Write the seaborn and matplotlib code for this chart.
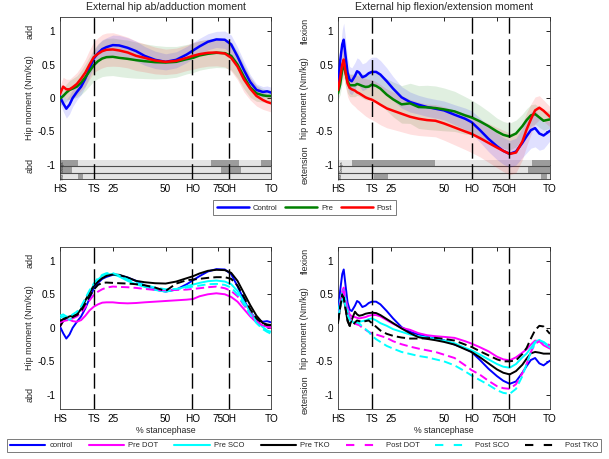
import numpy as np
import pandas as pd
import matplotlib
matplotlib.use('Agg')
import matplotlib.pyplot as plt
import matplotlib.transforms as mtransforms
from matplotlib.lines import Line2D
import seaborn as sns

sns.set_style('white')
plt.rcParams['font.family'] = ['Liberation Sans', 'DejaVu Sans']
plt.rcParams['lines.scale_dashes'] = False

# ---------------- data ----------------
XTICK_LABELS = ['HS', 'TS', '25', '50', 'HO', '75', 'OH', 'TO']
YTICKS = [-1, -0.5, 0, 0.5, 1]
YTICK_LABELS = ['-1', '-0.5', '0', '0.5', '1']
EVENTS_AB = [16.1, 62.6, 80.1]   # TS, HO, OH
EVENTS_FE = [16.2, 63.0, 80.7]

TITLES = ['External hip ab/adduction moment', 'External hip flexion/extension moment']

# % stance grid, ab/adduction panels
XA = [0, 1.5, 3, 4.5, 6, 8, 10, 12, 14, 16, 18, 20, 22, 25, 28, 32, 36, 40, 45, 50,
      55, 60, 63, 66, 70, 74, 78, 81, 84, 87, 90, 93, 96, 98, 100]
# % stance grid, flexion/extension panels
XF = [0, 1, 2, 2.7, 3.5, 4.5, 5.5, 6.5, 8, 9, 10, 11.5, 13, 14.5, 16, 18, 20, 23, 26, 30,
      34, 38, 42, 46, 50, 55, 60, 63, 67, 71, 75, 78, 81, 84, 87, 89, 91, 93, 95, 97, 100]

# top-left: ab/adduction means
ab_control = [0.02, -0.08, -0.16, -0.1, 0.0, 0.09, 0.17, 0.29, 0.44, 0.59, 0.67, 0.73, 0.76, 0.79, 0.785, 0.75, 0.7, 0.63, 0.57, 0.54,
              0.57, 0.65, 0.71, 0.77, 0.84, 0.875, 0.87, 0.8, 0.62, 0.42, 0.24, 0.12, 0.09, 0.1, 0.08]
ab_pre = [-0.01, 0.03, 0.08, 0.12, 0.14, 0.17, 0.23, 0.31, 0.4, 0.49, 0.55, 0.59, 0.61, 0.615, 0.6, 0.585, 0.565, 0.55, 0.535, 0.53,
          0.54, 0.58, 0.6, 0.635, 0.66, 0.675, 0.67, 0.63, 0.5, 0.32, 0.16, 0.07, 0.04, 0.03, 0.03]
ab_post = [0.06, 0.17, 0.13, 0.13, 0.16, 0.21, 0.29, 0.38, 0.5, 0.61, 0.66, 0.7, 0.72, 0.725, 0.71, 0.68, 0.63, 0.6, 0.56, 0.54,
           0.555, 0.6, 0.63, 0.655, 0.675, 0.68, 0.665, 0.6, 0.47, 0.28, 0.14, 0.03, -0.03, -0.06, -0.08]
ab_control_sd = [0.1, 0.12, 0.14, 0.14, 0.13, 0.12, 0.12, 0.12, 0.12, 0.12, 0.13, 0.14, 0.14, 0.15, 0.15, 0.15, 0.15, 0.14, 0.13, 0.12,
                 0.12, 0.12, 0.12, 0.12, 0.12, 0.12, 0.13, 0.14, 0.14, 0.13, 0.11, 0.09, 0.08, 0.08, 0.08]
ab_pre_sd = [0.1, 0.12, 0.13, 0.14, 0.15, 0.16, 0.18, 0.2, 0.22, 0.24, 0.26, 0.27, 0.28, 0.28, 0.28, 0.28, 0.27, 0.26, 0.25, 0.24,
             0.23, 0.22, 0.22, 0.22, 0.22, 0.22, 0.22, 0.21, 0.2, 0.18, 0.15, 0.12, 0.1, 0.09, 0.09]
ab_post_sd = [0.12, 0.14, 0.15, 0.15, 0.16, 0.17, 0.18, 0.2, 0.22, 0.23, 0.24, 0.25, 0.25, 0.25, 0.24, 0.23, 0.22, 0.21, 0.2, 0.19,
              0.19, 0.19, 0.2, 0.2, 0.2, 0.2, 0.2, 0.2, 0.2, 0.19, 0.17, 0.15, 0.14, 0.13, 0.13]

# top-right: flexion/extension means
fe_control = [0.15, 0.55, 0.8, 0.87, 0.65, 0.38, 0.27, 0.25, 0.33, 0.4, 0.38, 0.31, 0.33, 0.37, 0.39, 0.39, 0.35, 0.25, 0.14, 0.01,
              -0.06, -0.1, -0.135, -0.16, -0.185, -0.25, -0.31, -0.36, -0.48, -0.61, -0.72, -0.79, -0.835, -0.8, -0.67, -0.57, -0.48, -0.45, -0.53, -0.56, -0.49]
fe_pre = [0.07, 0.2, 0.42, 0.52, 0.38, 0.25, 0.19, 0.19, 0.19, 0.21, 0.2, 0.18, 0.165, 0.17, 0.2, 0.18, 0.14, 0.05, -0.02, -0.095,
          -0.08, -0.135, -0.14, -0.15, -0.17, -0.2, -0.26, -0.29, -0.35, -0.42, -0.5, -0.55, -0.575, -0.53, -0.42, -0.33, -0.26, -0.24, -0.29, -0.34, -0.32]
fe_post = [0.12, 0.3, 0.5, 0.575, 0.4, 0.22, 0.15, 0.13, 0.11, 0.085, 0.07, 0.04, 0.01, -0.01, -0.025, -0.06, -0.1, -0.155, -0.19, -0.235,
           -0.28, -0.31, -0.33, -0.34, -0.38, -0.44, -0.5, -0.535, -0.6, -0.67, -0.74, -0.79, -0.835, -0.815, -0.65, -0.47, -0.32, -0.185, -0.145, -0.19, -0.28]
fe_control_sd = [0.1, 0.15, 0.22, 0.25, 0.25, 0.22, 0.2, 0.2, 0.2, 0.2, 0.2, 0.2, 0.2, 0.21, 0.22, 0.22, 0.21, 0.2, 0.18, 0.16,
                 0.15, 0.14, 0.14, 0.14, 0.14, 0.15, 0.16, 0.17, 0.18, 0.19, 0.2, 0.2, 0.2, 0.2, 0.22, 0.25, 0.27, 0.28, 0.25, 0.2, 0.15]
fe_pre_sd = [0.1, 0.15, 0.2, 0.22, 0.2, 0.18, 0.17, 0.17, 0.17, 0.17, 0.17, 0.18, 0.19, 0.2, 0.2, 0.21, 0.22, 0.24, 0.26, 0.28,
             0.3, 0.32, 0.33, 0.33, 0.32, 0.3, 0.28, 0.26, 0.24, 0.22, 0.2, 0.2, 0.2, 0.2, 0.18, 0.17, 0.16, 0.15, 0.15, 0.14, 0.13]
fe_post_sd = [0.1, 0.15, 0.2, 0.22, 0.22, 0.2, 0.2, 0.22, 0.24, 0.25, 0.26, 0.27, 0.28, 0.29, 0.3, 0.3, 0.3, 0.29, 0.28, 0.27,
              0.26, 0.25, 0.24, 0.24, 0.25, 0.26, 0.27, 0.28, 0.28, 0.29, 0.3, 0.31, 0.31, 0.3, 0.27, 0.25, 0.23, 0.2, 0.18, 0.16, 0.15]

# bottom-left: ab/adduction subgroups
ab_pre_dot = [0.02, 0.1, 0.14, 0.12, 0.1, 0.09, 0.115, 0.18, 0.26, 0.315, 0.35, 0.375, 0.38, 0.38, 0.37, 0.365, 0.37, 0.38, 0.39, 0.4,
              0.41, 0.42, 0.43, 0.47, 0.5, 0.515, 0.5, 0.46, 0.39, 0.28, 0.17, 0.08, 0.03, 0.02, 0.015]
ab_pre_sco = [0.15, 0.17, 0.13, 0.12, 0.15, 0.2, 0.28, 0.4, 0.53, 0.64, 0.72, 0.775, 0.8, 0.8, 0.765, 0.7, 0.65, 0.61, 0.565, 0.54,
              0.57, 0.62, 0.645, 0.67, 0.695, 0.705, 0.69, 0.65, 0.55, 0.39, 0.24, 0.1, 0.01, -0.04, -0.06]
ab_pre_tko = [0.02, 0.1, 0.15, 0.17, 0.18, 0.2, 0.28, 0.41, 0.52, 0.625, 0.69, 0.74, 0.775, 0.795, 0.79, 0.75, 0.7, 0.68, 0.665, 0.66,
              0.69, 0.74, 0.77, 0.81, 0.85, 0.865, 0.86, 0.82, 0.7, 0.52, 0.34, 0.18, 0.07, 0.05, 0.04]
ab_post_dot = [0.08, 0.1, 0.11, 0.12, 0.14, 0.17, 0.22, 0.31, 0.41, 0.49, 0.54, 0.575, 0.6, 0.615, 0.61, 0.605, 0.595, 0.58, 0.565, 0.56,
               0.565, 0.57, 0.58, 0.59, 0.605, 0.615, 0.59, 0.55, 0.47, 0.34, 0.22, 0.1, 0.03, 0.01, 0.0]
ab_post_sco = [0.18, 0.2, 0.17, 0.17, 0.2, 0.24, 0.32, 0.44, 0.56, 0.66, 0.74, 0.79, 0.815, 0.815, 0.78, 0.72, 0.67, 0.64, 0.6, 0.575,
               0.58, 0.6, 0.615, 0.63, 0.65, 0.655, 0.64, 0.6, 0.5, 0.35, 0.2, 0.07, -0.02, -0.06, -0.09]
ab_post_tko = [0.1, 0.13, 0.15, 0.15, 0.16, 0.19, 0.25, 0.36, 0.47, 0.57, 0.64, 0.67, 0.675, 0.67, 0.665, 0.66, 0.65, 0.635, 0.6, 0.55,
               0.66, 0.71, 0.72, 0.73, 0.745, 0.755, 0.755, 0.73, 0.63, 0.46, 0.28, 0.14, 0.06, 0.04, 0.04]

# bottom-right: flexion/extension subgroups
fe_pre_dot = [0.15, 0.35, 0.55, 0.6, 0.45, 0.3, 0.2, 0.17, 0.16, 0.15, 0.14, 0.15, 0.16, 0.18, 0.19, 0.19, 0.17, 0.115, 0.06, 0.0,
              -0.03, -0.08, -0.11, -0.125, -0.135, -0.15, -0.2, -0.235, -0.29, -0.35, -0.43, -0.47, -0.485, -0.44, -0.37, -0.32, -0.25, -0.19, -0.2, -0.26, -0.31]
fe_pre_sco = [0.2, 0.4, 0.52, 0.56, 0.42, 0.25, 0.15, 0.1, 0.065, 0.08, 0.09, 0.1, 0.11, 0.13, 0.14, 0.11, 0.07, 0.03, -0.02, -0.06,
              -0.1, -0.125, -0.145, -0.165, -0.19, -0.23, -0.3, -0.335, -0.4, -0.47, -0.54, -0.58, -0.595, -0.54, -0.44, -0.385, -0.3, -0.21, -0.18, -0.22, -0.29]
fe_pre_tko = [0.07, 0.3, 0.5, 0.45, 0.3, 0.1, 0.03, 0.12, 0.24, 0.2, 0.18, 0.19, 0.21, 0.22, 0.225, 0.22, 0.19, 0.13, 0.07, -0.01,
              -0.08, -0.14, -0.165, -0.185, -0.21, -0.25, -0.32, -0.36, -0.44, -0.53, -0.62, -0.67, -0.695, -0.645, -0.55, -0.46, -0.38, -0.36, -0.37, -0.385, -0.385]
fe_post_dot = [0.15, 0.35, 0.5, 0.55, 0.4, 0.25, 0.15, 0.1, 0.06, 0.05, 0.04, 0.0, -0.03, -0.06, -0.085, -0.1, -0.12, -0.15, -0.2, -0.245,
               -0.28, -0.31, -0.335, -0.36, -0.4, -0.45, -0.56, -0.63, -0.7, -0.79, -0.87, -0.9, -0.91, -0.84, -0.68, -0.54, -0.36, -0.24, -0.2, -0.22, -0.26]
fe_post_sco = [0.15, 0.3, 0.42, 0.45, 0.33, 0.2, 0.12, 0.09, 0.09, 0.08, 0.065, 0.02, -0.02, -0.06, -0.12, -0.17, -0.21, -0.27, -0.31, -0.36,
               -0.39, -0.42, -0.44, -0.47, -0.5, -0.56, -0.65, -0.71, -0.78, -0.85, -0.93, -0.97, -0.985, -0.91, -0.72, -0.54, -0.36, -0.22, -0.19, -0.21, -0.28]
fe_post_tko = [0.1, 0.3, 0.48, 0.45, 0.3, 0.12, 0.03, 0.02, 0.08, 0.11, 0.1, 0.09, 0.1, 0.11, 0.07, 0.015, -0.04, -0.09, -0.12, -0.145,
               -0.16, -0.16, -0.155, -0.15, -0.165, -0.19, -0.25, -0.285, -0.35, -0.41, -0.47, -0.5, -0.5, -0.485, -0.39, -0.3, -0.16, -0.035, 0.03, 0.02, -0.09]

# significance bars (start, end) in % stance, three rows per panel
SIG_AB = [[(0, 8.6), (71.5, 84.8), (94.9, 100)], [(0, 5.7), (76.2, 85.5)], [(8.3, 10.7)]]
SIG_FE = [[(6.5, 45.6), (91.4, 100)], [(89.8, 100)], [(17.2, 23.7), (95.8, 98.4)]]
SIG_ROWS = [(-1.02, -0.92), (-1.115, -1.02), (-1.21, -1.115)]

TOP_LABELS = ['Control', 'Pre', 'Post']
BOTTOM_LABELS = ['control', 'Pre DOT', 'Pre SCO', 'Pre TKO', 'Post DOT', 'Post SCO', 'Post TKO']

BLUE, GREEN, RED = (0, 0, 1), (0, 0.5, 0), (1, 0, 0)
MAG, CYAN, BLACK = (1, 0, 1), (0, 1, 1), (0, 0, 0)
DASH = (6, 3)

# ---------------- figure ----------------
fig = plt.figure(figsize=(6.09, 4.59), dpi=100)
ax_tl = fig.add_axes([0.0985, 0.610, 0.347, 0.353])
ax_tr = fig.add_axes([0.555, 0.610, 0.348, 0.353])
ax_bl = fig.add_axes([0.0985, 0.109, 0.347, 0.3536])
ax_br = fig.add_axes([0.555, 0.109, 0.348, 0.3536])


def draw(ax, x, y, color, lw, dashes=None, z=3):
    sns.lineplot(x=x, y=y, ax=ax, color=color, linewidth=lw, estimator=None,
                 sort=False, errorbar=None, legend=False)
    ln = ax.lines[-1]
    if dashes:
        ln.set_dashes(dashes)
    ln.set_zorder(z)


def band(ax, x, m, s, color):
    m = np.asarray(m); s = np.asarray(s)
    ax.fill_between(x, m - s, m + s, color=color, alpha=0.12, lw=0, zorder=1)


def setup(ax, events, side_top, side_mid, side_bot, xoff):
    ax.set_xlim(0, 100)
    ax.set_ylim(-1.21, 1.21)
    ax.set_xticks([0, events[0], 25, 50, events[1], 75, events[2], 100])
    ax.set_xticklabels(XTICK_LABELS)
    ax.set_yticks(YTICKS)
    ax.set_yticklabels(YTICK_LABELS)
    ax.set_xlabel('')
    ax.set_ylabel('')
    ax.tick_params(direction='in', length=3, width=0.6, top=True, right=True,
                   labelsize=7.2, pad=3.5, colors='black')
    for sp in ax.spines.values():
        sp.set_linewidth(0.6)
        sp.set_color('0.2')
    for v in events:
        ln = ax.axvline(v, color='black', lw=1.0, zorder=5)
        ln.set_dashes((11, 4))
    tr = mtransforms.blended_transform_factory(ax.transAxes, ax.transData)
    ax.text(xoff, 1.0, side_top, transform=tr, rotation=90, ha='center', va='center', fontsize=6.5)
    ax.text(xoff, -1.0, side_bot, transform=tr, rotation=90, ha='center', va='center', fontsize=6.5)
    ax.text(xoff, 0.5, side_mid, transform=ax.transAxes, rotation=90, ha='center', va='center', fontsize=6.5)


def sigbars(ax, sig):
    for (y0, y1), segs in zip(SIG_ROWS, sig):
        ax.broken_barh([(0, 100)], (y0, y1 - y0), facecolor='#e4e4e4', edgecolor='none', zorder=0.5)
        ax.broken_barh([(a, b - a) for a, b in segs], (y0, y1 - y0), facecolor='#9c9c9c',
                       edgecolor='none', zorder=0.6)
    ax.axhline(-1.02, color='0.3', lw=0.8, zorder=0.7)
    ax.axhline(-1.115, color='0.3', lw=0.8, zorder=0.7)
    ax.text(1.6, -1.02, 'Groups', rotation=90, fontsize=2.5, ha='center', va='center', zorder=0.8)
    ax.text(1.6, -1.162, 'Time', rotation=90, fontsize=2.5, ha='center', va='center', zorder=0.8)


# top-left
sigbars(ax_tl, SIG_AB)
band(ax_tl, XA, ab_pre, ab_pre_sd, GREEN)
band(ax_tl, XA, ab_post, ab_post_sd, RED)
band(ax_tl, XA, ab_control, ab_control_sd, BLUE)
draw(ax_tl, XA, ab_control, BLUE, 1.8)
draw(ax_tl, XA, ab_pre, GREEN, 1.8)
draw(ax_tl, XA, ab_post, RED, 1.8)
setup(ax_tl, EVENTS_AB, 'add', 'Hip moment (Nm/Kg)', 'abd', -0.142)
ax_tl.set_title(TITLES[0], fontsize=7.6, pad=5)

# top-right
sigbars(ax_tr, SIG_FE)
band(ax_tr, XF, fe_pre, fe_pre_sd, GREEN)
band(ax_tr, XF, fe_post, fe_post_sd, RED)
band(ax_tr, XF, fe_control, fe_control_sd, BLUE)
draw(ax_tr, XF, fe_control, BLUE, 1.8)
draw(ax_tr, XF, fe_pre, GREEN, 1.8)
draw(ax_tr, XF, fe_post, RED, 1.8)
setup(ax_tr, EVENTS_FE, 'flexion', 'hip moment (Nm/kg)', 'extension', -0.156)
ax_tr.set_title(TITLES[1], fontsize=7.6, pad=5)

# bottom-left
draw(ax_bl, XA, ab_control, BLUE, 1.4)
draw(ax_bl, XA, ab_pre_dot, MAG, 1.4)
draw(ax_bl, XA, ab_pre_sco, CYAN, 1.4)
draw(ax_bl, XA, ab_pre_tko, BLACK, 1.4)
draw(ax_bl, XA, ab_post_dot, MAG, 1.4, DASH)
draw(ax_bl, XA, ab_post_sco, CYAN, 1.4, DASH)
draw(ax_bl, XA, ab_post_tko, BLACK, 1.4, DASH)
setup(ax_bl, EVENTS_AB, 'add', 'Hip moment (Nm/Kg)', 'abd', -0.142)
ax_bl.text(0.5, -0.13, '% stancephase', transform=ax_bl.transAxes, ha='center', va='center', fontsize=6.3)

# bottom-right
draw(ax_br, XF, fe_control, BLUE, 1.4)
draw(ax_br, XF, fe_pre_dot, MAG, 1.4)
draw(ax_br, XF, fe_pre_sco, CYAN, 1.4)
draw(ax_br, XF, fe_pre_tko, BLACK, 1.4)
draw(ax_br, XF, fe_post_dot, MAG, 1.4, DASH)
draw(ax_br, XF, fe_post_sco, CYAN, 1.4, DASH)
draw(ax_br, XF, fe_post_tko, BLACK, 1.4, DASH)
setup(ax_br, EVENTS_FE, 'flexion', 'hip moment (Nm/kg)', 'extension', -0.156)
ax_br.text(0.5, -0.13, '% stancephase', transform=ax_br.transAxes, ha='center', va='center', fontsize=6.3)

# legends
top_handles = [Line2D([], [], color=c, lw=1.8) for c in (BLUE, GREEN, RED)]
leg1 = fig.legend(top_handles, TOP_LABELS, loc='center', bbox_to_anchor=(0.5, 0.547), ncol=3,
                  fontsize=5.5, handlelength=4.2, handletextpad=0.5, columnspacing=1.0,
                  frameon=True, fancybox=False, borderpad=0.5, edgecolor='0.35')
leg1.get_frame().set_linewidth(0.7)

bot_handles = []
for c, d in [(BLUE, None), (MAG, None), (CYAN, None), (BLACK, None), (MAG, (6, 7.5)), (CYAN, (6, 7.5)), (BLACK, (6, 7.5))]:
    h = Line2D([], [], color=c, lw=1.5)
    if d:
        h.set_dashes(d)
    bot_handles.append(h)
leg2 = fig.legend(bot_handles, BOTTOM_LABELS, loc='lower left',
                  bbox_to_anchor=(7 / 609, 7 / 459, 594 / 609, 15 / 459), mode='expand', ncol=7,
                  fontsize=5.5, handlelength=4.6, handletextpad=0.6, borderaxespad=0,
                  frameon=True, fancybox=False, borderpad=0.35, edgecolor='0.35')
leg2.get_frame().set_linewidth(0.7)

fig.savefig('out.png', dpi=100)
